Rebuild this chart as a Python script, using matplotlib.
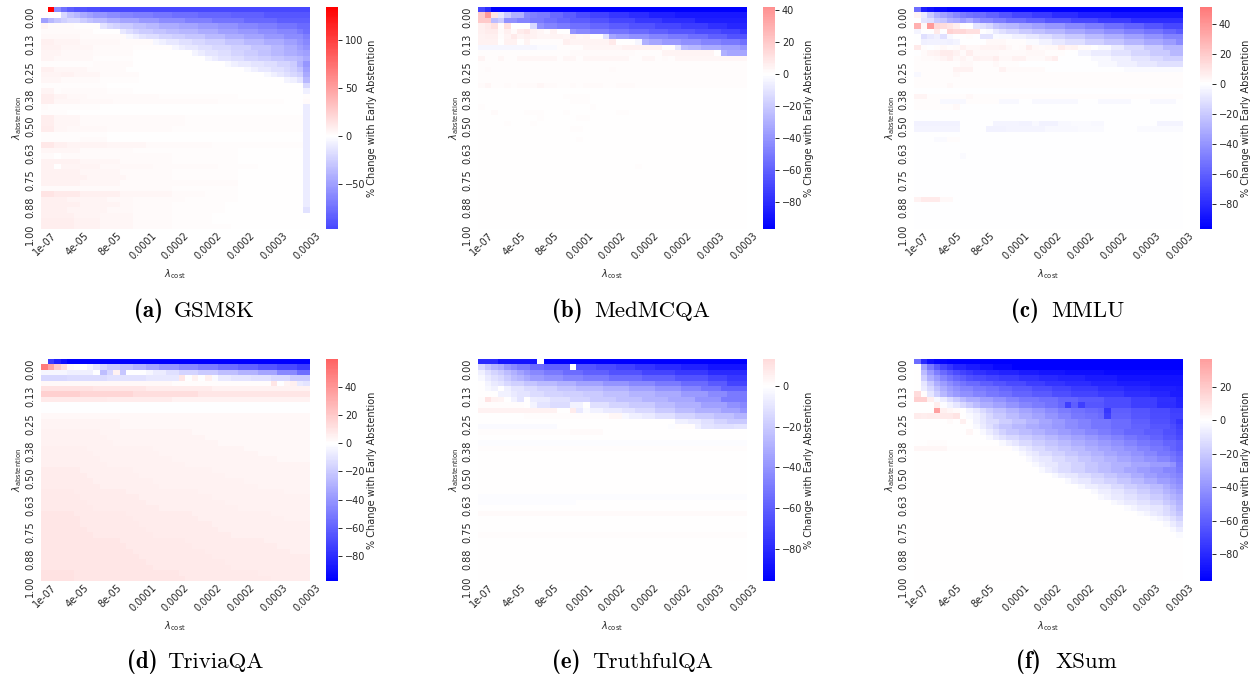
import numpy as np
import matplotlib
matplotlib.use('Agg')
import matplotlib.pyplot as plt
from matplotlib.colors import ListedColormap, Normalize
from matplotlib.cm import ScalarMappable

gsm8k = [
    [0,1,135,1,-60,1,-75,1,-85,1,-90,2,-93,2,-96,32],
    [0,3,-20,1,-32,1,-38,1,-45,1,-50,1,-55,2,-60,2,-65,2,-68,3,-72,3,-76,4,-80,5,-84,5,-88,7],
    [-50,1,-38,1,-30,1,-25,1,-20,2,-27,1,-32,1,-36,2,-42,2,-48,3,-54,3,-60,4,-67,4,-73,5,-79,5,-85,5],
    [6,1,2,4,1,4,-14,1,-20,1,-24,1,-28,2,-33,2,-38,2,-43,3,-48,3,-53,3,-58,3,-63,3,-68,3,-73,3,-78,2],
    [2,8,0,4,-12,1,-17,1,-22,1,-27,2,-31,2,-35,2,-39,3,-44,3,-49,3,-54,3,-59,3,-64,3,-69,1,-76,1],
    [4,6,2,7,-5,1,-9,1,-14,1,-18,2,-22,2,-26,2,-30,3,-36,3,-42,3,-48,3,-54,3,-60,3,-68,1],
    [8,2,6,4,4,6,2,5,-5,1,-8,1,-12,2,-16,2,-20,2,-25,3,-31,3,-37,3,-43,3,-50,2,-56,1,-62,1],
    [7,3,5,5,3,6,1,6,-5,1,-9,1,-12,2,-16,2,-20,3,-25,3,-31,3,-37,2,-44,2,-51,1,-58,1],
    [6,3,4,5,2,6,0,9,-6,1,-10,1,-14,2,-18,2,-22,2,-27,2,-32,2,-37,2,-42,2,-47,1,-50,1],
    [6,2,4,6,1,6,0,11,-6,1,-10,1,-14,2,-18,2,-22,2,-26,2,-30,2,-34,2,-38,1,-45,1],
    [1,8,2,6,0,14,-4,1,-8,1,-11,2,-14,2,-18,2,-22,2,-27,1,-40,1,-55,1],
    [8,2,5,5,3,6,0,18,-4,1,-8,1,-12,2,-16,2,-20,1,-25,1,-32,1,-50,1],
    [6,3,7,2,5,4,3,6,0,19,-4,1,-8,1,-12,1,-16,1,-20,1,-25,1,-45,1],
    [5,3,3,6,1,6,0,22,-6,1,-8,1,-14,1,-38,1],
    [1,10,0,30,-20,1],
    [6,2,1,1,3,3,2,4,1,4,0,26,-8,1],
    [9,2,6,2,4,3,3,5,2,6,1,12,0,10,1,1],
    [9,2,5,4,4,5,3,6,3,4,2,6,1,10,0,3,2,1],
    [2,1,1,8,0,31,-10,1],
    [1,4,0,36,-10,1],
    [9,2,5,4,3,8,2,8,1,18,-10,1],
    [9,2,5,4,3,8,2,8,1,18,-10,1],
    [10,2,5,2,4,6,3,10,1,20,-10,1],
    [1,10,0,30,-10,1],
    [1,6,2,4,0,30,-10,1],
    [12,2,8,2,6,6,5,6,3,10,1,14,-10,1],
    [5,6,3,8,1,16,0,10,-10,1],
    [2,2,0,1,3,9,2,8,1,10,0,10,-10,1],
    [7,6,5,6,3,8,1,10,0,10,-10,1],
    [7,2,0,1,6,6,4,8,2,10,1,6,0,7,-10,1],
    [7,6,5,6,3,8,1,10,0,10,-10,1],
    [7,7,5,6,3,7,1,10,0,10,-10,1],
    [7,6,5,6,3,8,2,10,0,10,-10,1],
    [3,10,2,10,1,10,0,10,-10,1],
    [14,2,11,4,8,6,5,8,3,5,1,5,0,10,-10,1],
    [8,4,6,6,4,4,2,8,1,8,0,10,-10,1],
    [8,6,6,6,4,2,2,6,1,8,0,12,-10,1],
    [8,4,6,6,4,4,3,6,1,8,0,12,-15,1],
    [8,5,6,4,5,5,3,6,1,6,0,15],
    [9,5,7,4,5,5,3,6,1,6,0,15],
    [9,5,7,4,5,5,3,6,1,9,0,12],
]

medmcqa = [
    [-70,1,-80,1,-97,39],
    [20,1,38,1,10,1,-10,1,-20,1,-30,2,-45,1,-48,1,-50,2,-56,2,-62,2,-68,2,-72,3,-76,3,-80,3,-84,4,-87,11],
    [20,2,-25,1,-20,1,-42,2,-46,2,-50,2,-54,2,-58,2,-62,3,-66,3,-70,4,-75,4,-80,5,-85,8],
    [6,1,8,1,12,1,1,1,12,1,0,3,-15,1,-42,1,-46,2,-50,2,-54,3,-58,3,-62,3,-66,4,-70,4,-74,4,-78,3,-82,2],
    [6,1,7,2,2,1,6,1,2,1,7,1,9,1,5,1,3,1,1,1,5,1,0,2,-40,1,-44,2,-48,3,-52,3,-56,3,-60,3,-64,4,-68,4,-72,3,-76,2],
    [5,1,6,2,1,1,4,1,8,1,4,1,6,1,5,1,3,2,4,2,3,1,6,1,3,1,4,1,1,2,-12,1,-35,1,-38,2,-42,3,-46,3,-50,3,-55,3,-60,3,-66,3,-70,1],
    [5,3,0,1,5,2,0,1,4,1,1,5,6,1,4,6,8,1,0,3,-4,1,-30,1,-34,2,-38,3,-42,3,-46,3,-50,3,-54,2],
    [-4,9,-2,3,1,4,3,6,5,6,1,2,-10,1,-25,1,-28,2,-32,3,-36,3,-40,3,-45,2],
    [1,14,2,10,1,4,4,8,0,1,-30,1,-34,3],
    [4,1,1,2,3,1,1,2,3,6,1,1,3,2,1,1,3,7,1,2,3,2,1,1,2,1,1,1,3,11],
    [1,41],
    [1,1,2,1,1,18,2,1,1,20],
    [1,41],
    [1,41],
    [2,1,3,1,1,2,2,1,1,1,2,3,3,1,2,1,2,1,1,2,2,1,1,1,2,1,2,2,1,2,2,3,1,20],
    [0,41],
    [0,13,1,4,0,24],
    [0,14,1,3,0,24],
    [1,1,0,16,1,1,0,23],
    [0,2,2,1,0,4,1,3,0,3,1,1,0,7,1,2,0,18],
    [0,9,1,1,0,5,1,2,0,24],
    [0,4,1,1,0,3,1,1,0,31],
    [0,14,1,2,0,25],
    [0,41],
    [0,15,1,1,0,25],
    [0,41],
    [0,41],
    [0,41],
    [0,41],
    [0,24,1,1,0,16],
    [0,41],
    [0,41],
    [0,41],
    [0,41],
    [0,41],
    [0,41],
    [0,41],
    [0,41],
    [0,41],
    [0,41],
    [0,41],
]

mmlu = [
    [-55,1,-85,1,-90,1,-93,2,-97,36],
    [4,1,-8,1,-20,1,-30,1,-35,1,-40,1,-45,1,-50,1,-52,1,-55,2,-60,2,-65,2,-70,3,-75,3,-80,4,-84,5,-88,11],
    [0,1,-10,1,-12,1,-20,1,-22,1,-30,1,-32,1,-38,1,-32,1,-40,1,-45,2,-50,2,-55,3,-60,3,-65,4,-70,4,-75,5,-80,8],
    [30,1,3,1,38,1,15,1,13,1,10,1,6,1,1,1,0,1,-10,1,-12,1,-15,1,-22,1,-25,1,-28,2,-32,2,-36,2,-40,3,-45,3,-50,3,-55,3,-60,3,-65,3,-70,2],
    [-4,1,0,2,8,1,0,1,17,1,14,2,12,2,0,1,-2,1,-8,1,-12,1,-16,2,-20,2,-24,2,-28,3,-33,3,-38,3,-43,3,-48,3,-53,3,-58,2,-62,2],
    [0,1,-12,1,-8,1,-6,1,-12,1,-3,1,-1,1,0,1,1,1,-1,1,-10,2,-2,1,-3,2,-6,2,-9,2,-13,2,-17,2,-21,3,-26,3,-31,3,-36,3,-41,3,-47,3,-52,2],
    [0,1,-6,1,-5,3,-6,1,-4,1,0,4,3,3,1,3,-2,2,-5,2,-9,2,-13,3,-18,3,-23,3,-28,3,-33,3,-38,2,-44,1],
    [8,1,1,1,0,1,1,1,3,1,1,1,2,1,5,1,3,2,4,3,5,1,3,1,1,1,2,1,6,1,3,1,2,1,3,2,7,1,4,1,5,1,2,2,0,1,-3,2,-8,2,-14,3,-20,3,-28,3,-34,1],
    [0,1,2,1,4,1,5,1,7,2,5,1,2,1,6,1,3,4,2,4,3,3,1,3,-1,2,-4,2,-7,3,-11,3,-15,3,-20,3,-27,2],
    [1,1,2,2,3,1,4,1,6,1,3,1,4,1,2,1,5,1,4,2,6,1,3,2,5,2,2,3,4,1,6,1,0,3,-1,2,-3,3,-6,3,-10,3,-14,2,-18,2],
    [1,7,3,2,1,3,3,1,1,3,0,8,-1,4,-3,3,-6,3,-9,3,-12,4],
    [1,6,5,3,1,4,5,1,2,6,0,12,-2,9],
    [-3,1,1,5,3,1,1,34],
    [1,41],
    [1,5,3,1,1,35],
    [0,41],
    [4,2,1,6,3,1,1,32],
    [1,4,-3,4,1,5,-3,3,0,2,-3,7,0,3,-3,5,0,3,-3,4,0,1],
    [1,6,3,1,0,34],
    [0,41],
    [-1,1,0,40],
    [-5,7,0,4,-1,1,-4,4,-5,2,-3,1,-5,3,-3,2,-2,3,-3,2,0,4,-1,4,-4,3],
    [-4,7,0,4,-5,3,-4,6,-3,5,-2,4,0,5,-2,5],
    [-1,1,0,9,-1,31],
    [0,3,-2,2,1,2,0,34],
    [-1,2,0,39],
    [0,41],
    [0,7,-2,1,0,33],
    [0,41],
    [0,41],
    [0,41],
    [0,41],
    [0,41],
    [0,41],
    [-1,41],
    [5,1,8,3,3,2,0,4,-1,31],
    [0,41],
    [0,41],
    [0,41],
    [0,41],
    [0,41],
]

triviaqa = [
    [0,1,-75,1,-85,1,-92,1,-98,37],
    [50,1,35,1,20,1,12,1,3,1,1,1,0,1,-5,1,-10,1,-15,1,-20,2,-25,2,-30,2,-35,2,-40,3,-45,3,-50,3,-55,3,-60,3,-65,3,-70,3,-75,2],
    [-4,4,-6,4,0,1,-25,1,-15,1,5,1,-22,1,0,3,-3,1,-7,2,-12,2,-16,3,-20,3,-25,3,-30,3,-35,3,-45,3,-55,2],
    [-15,4,-13,6,-11,6,-9,5,10,1,0,1,5,1,0,1,6,1,-2,1,-8,2,-10,3,-12,3,-15,3,-20,3,-27,3,-33,1],
    [2,20,1,15,10,1,0,1,4,1,6,1,-8,1,-10,1],
    [11,8,9,8,7,10,5,15],
    [18,6,15,8,12,10,9,17],
    [8,10,7,10,5,21],
    [0,41],
    [0,41],
    [3,10,2,31],
    [4,12,3,15,2,14],
    [4,12,3,29],
    [5,9,4,14,3,18],
    [5,10,4,15,3,16],
    [5,11,4,16,3,14],
    [6,7,5,10,4,14,3,10],
    [6,8,5,10,4,15,3,8],
    [6,9,5,11,4,16,3,5],
    [6,10,5,12,4,19],
    [7,6,6,8,5,12,4,15],
    [7,7,6,8,5,13,4,13],
    [7,8,6,9,5,14,4,10],
    [7,9,6,9,5,15,4,8],
    [8,5,7,8,6,11,5,13,4,4],
    [8,6,7,9,6,11,5,15],
    [8,7,7,9,6,12,5,13],
    [8,8,7,10,6,12,5,11],
    [9,5,8,8,7,10,6,12,5,6],
    [9,6,8,8,7,10,6,13,5,4],
    [9,6,8,9,7,11,6,15],
    [9,7,8,9,7,11,6,14],
    [9,8,8,9,7,12,6,12],
    [10,5,9,7,8,10,7,12,6,7],
    [10,5,9,8,8,10,7,13,6,5],
    [10,6,9,8,8,11,7,13,6,3],
    [10,7,9,8,8,11,7,15],
    [10,7,9,9,8,12,7,13],
    [10,8,9,9,8,12,7,12],
    [11,5,10,7,9,9,8,12,7,8],
    [11,5,10,8,9,9,8,13,7,6],
]

truthfulqa = [
    [-80,3,-88,6,0,1,-97,31],
    [-15,1,-22,1,-28,1,-32,1,-40,1,-45,1,-50,2,-56,2,-60,4,0,1,-64,3,-68,3,-72,3,-76,3,-80,4,-84,4,-88,6],
    [-6,1,-12,1,-16,1,-20,1,-25,1,-30,1,-35,1,-40,1,-45,2,-50,3,-55,3,-60,4,-65,5,-70,5,-75,5,-80,6],
    [-3,1,-8,1,-12,1,-15,1,-20,1,-25,1,-28,1,-33,1,-38,2,-42,3,-46,3,-50,4,-55,5,-60,5,-65,5,-70,3,-75,3],
    [0,1,-4,1,-8,1,-10,1,-15,1,-18,2,-22,2,-26,3,-30,3,-35,4,-40,4,-45,4,-50,4,-56,4,-62,3,-70,3],
    [0,1,-3,1,-5,1,0,1,-6,1,-10,2,-14,2,-18,3,-22,3,-26,4,-30,4,-35,4,-40,4,-46,3,-52,3,-60,3],
    [0,3,-5,2,-8,1,-10,2,-13,2,-16,3,-18,3,-20,3,-24,4,-28,4,-32,4,-38,4,-44,3,-50,3],
    [1,1,10,1,5,1,4,1,0,1,-5,1,-10,1,0,1,-7,1,-8,2,-12,3,-16,3,-20,4,-24,4,-28,4,-33,4,-40,4,-50,4],
    [1,7,0,1,-4,1,-10,2,-13,3,-5,2,0,1,-12,3,-16,3,-20,4,-25,3,-30,4,-36,4,-42,2,-45,1],
    [5,12,0,2,7,1,-8,1,-2,1,-5,2,-8,3,-11,2,-15,3,-20,3,-25,3,-30,4,-35,3,-40,1],
    [0,7,1,13,3,2,-3,1,-6,2,-8,2,-12,3,-16,3,-20,3,-24,3,-28,2],
    [0,30,-6,2,-8,2,-12,2,-16,2,-20,3],
    [-2,12,0,17,-1,1,1,3,-6,1,-10,2,-12,3,-10,2],
    [1,14,2,5,0,22],
    [0,41],
    [-1,41],
    [1,41],
    [0,41],
    [0,41],
    [0,41],
    [0,41],
    [0,41],
    [0,41],
    [0,41],
    [0,41],
    [-1,41],
    [-1,15,0,26],
    [0,41],
    [2,41],
    [0,41],
    [0,41],
    [0,41],
    [1,41],
    [0,41],
    [0,41],
    [0,41],
    [0,41],
    [0,41],
    [0,41],
    [0,41],
    [0,41],
]

xsum = [
    [-55,1,-80,1,-90,1,-94,2,-97,36],
    [0,1,-35,1,-50,1,-62,1,-70,1,-76,1,-82,2,-86,2,-89,2,-92,3,-95,26],
    [0,1,-25,1,-38,1,-48,1,-56,1,-62,1,-67,1,-71,1,-74,1,-77,2,-80,2,-83,3,-86,3,-88,4,-90,6,-92,12],
    [0,1,-18,1,-30,1,-38,1,-46,1,-52,1,-57,1,-61,1,-65,1,-68,2,-71,2,-74,3,-77,3,-80,3,-83,4,-86,5,-89,10],
    [0,1,-10,1,-20,1,-30,1,-37,1,-43,1,-48,1,-52,1,-56,2,-60,2,-64,2,-68,3,-72,3,-76,3,-79,4,-82,4,-85,5,-88,5],
    [0,1,-7,1,-15,1,-24,1,-31,1,-37,1,-42,1,-46,2,-50,2,-54,2,-58,2,-62,3,-66,3,-70,3,-74,4,-78,4,-81,4,-84,4,-86,1],
    [13,1,1,1,-10,1,-18,1,-27,1,-33,1,-38,1,-42,2,-46,2,-50,2,-54,2,-58,3,-62,3,-66,3,-70,4,-74,4,-78,4,-81,3,-85,1],
    [17,2,6,1,-3,1,-7,1,-14,1,-20,1,-26,1,-31,2,-36,2,-41,2,-46,2,-50,3,-54,3,-58,3,-62,4,-67,4,-72,4,-77,3,-83,1],
    [0,3,6,1,-1,1,-5,1,-10,1,-15,1,-20,1,-25,1,-30,2,-35,2,-40,2,-45,2,-49,2,-53,2,-57,1,-72,1,-60,1,-72,1,-63,3,-67,4,-72,4,-78,3,-82,1],
    [0,3,35,1,5,1,3,1,2,1,0,1,-5,1,-9,1,-14,1,-19,1,-24,2,-29,2,-34,2,-39,2,-44,2,-49,2,-53,2,-56,2,-58,1,-75,1,-60,3,-64,3,-68,3,-72,3,-76,1,-80,1],
    [7,1,6,1,7,2,8,2,10,1,0,1,-2,1,-5,1,-10,1,-15,1,-20,2,-25,2,-30,2,-35,2,-40,2,-45,2,-50,2,-53,2,-56,1,-72,1,-59,3,-63,3,-67,3,-71,3,-75,1,-78,1],
    [0,5,2,1,0,1,5,1,0,1,-5,1,-9,1,-13,2,-18,2,-23,2,-28,2,-33,2,-38,2,-43,2,-47,2,-51,3,-55,3,-60,3,-65,3,-70,1,-76,1],
    [0,9,-3,1,-7,1,-12,1,-17,1,-22,2,-27,2,-31,2,-35,2,-39,2,-43,2,-47,2,-51,3,-55,3,-59,3,-63,3,-67,1,-72,1],
    [0,8,3,1,0,1,-3,1,-7,1,-12,1,-17,1,-21,2,-25,2,-29,2,-33,2,-37,2,-41,2,-45,2,-49,2,-53,2,-57,3,-61,3,-65,2,-70,1],
    [0,11,-3,1,-7,1,-11,1,-15,2,-19,2,-23,2,-27,2,-31,2,-35,2,-39,2,-43,2,-47,2,-51,2,-55,2,-59,2,-63,2,-68,1],
    [0,2,1,3,0,8,-3,1,-6,1,-10,1,-14,2,-18,2,-22,2,-26,2,-30,2,-34,2,-38,2,-42,2,-46,2,-50,2,-54,2,-58,2,-62,2,-65,1],
    [3,5,1,10,-3,1,-6,1,-10,1,-14,2,-18,2,-22,2,-26,2,-30,2,-34,2,-38,2,-42,2,-46,2,-50,2,-54,1,-58,1,-62,1],
    [0,16,-3,1,-6,1,-9,1,-13,2,-17,2,-21,2,-25,2,-29,2,-33,2,-37,2,-41,2,-45,2,-50,2,-54,1,-58,1],
    [0,17,-3,1,-6,1,-9,2,-13,2,-17,2,-21,2,-25,2,-29,2,-33,2,-37,2,-41,2,-45,2,-50,1,-55,1],
    [0,18,-3,1,-6,1,-9,2,-13,2,-17,2,-21,2,-25,2,-29,3,-33,3,-37,3,-41,1,-52,1],
    [0,19,-3,1,-6,1,-10,1,-13,2,-17,2,-21,2,-25,2,-29,2,-33,2,-37,2,-41,2,-45,2,-50,1],
    [0,21,-3,1,-6,1,-9,2,-13,2,-17,2,-21,2,-26,2,-31,2,-36,2,-41,2,-44,1,-47,1],
    [0,23,-3,1,-6,1,-9,2,-13,2,-17,2,-21,2,-26,2,-31,2,-36,2,-40,1,-44,1],
    [0,25,-3,1,-6,2,-10,2,-14,2,-18,2,-22,2,-26,2,-31,1,-36,1,-40,1],
    [0,27,-3,1,-6,2,-10,2,-14,2,-18,2,-23,2,-28,1,-32,1,-36,1],
    [0,28,-3,1,-5,1,-8,2,-11,2,-15,2,-19,2,-24,1,-28,1,-32,1],
    [0,30,-3,1,-5,1,-8,2,-11,2,-15,2,-20,1,-24,1,-29,1],
    [0,32,-2,1,-4,1,-7,2,-10,2,-14,1,-19,1,-26,1],
    [0,34,-2,1,-4,1,-7,1,-10,1,-13,1,-17,1,-22,1],
    [0,36,-2,1,-4,1,-7,1,-12,1,-17,1],
    [0,38,-3,1,-7,1,-12,1],
    [0,39,-3,1,-7,1],
    [0,40,-2,1],
    [0,41],
    [0,41],
    [0,41],
    [0,41],
    [0,41],
    [0,41],
    [0,41],
    [0,41],
]

names = ['GSM8K', 'MedMCQA', 'MMLU', 'TriviaQA', 'TruthfulQA', 'XSum']
tags = ['(a)', '(b)', '(c)', '(d)', '(e)', '(f)']
tables = [gsm8k, medmcqa, mmlu, triviaqa, truthfulqa, xsum]
vmins = [-97, -97, -97, -98, -96, -96]
vmaxs = [135, 42, 51, 60, 13.4, 36.5]
cbar_ticks = [
    [-50, 0, 50, 100],
    [-80, -60, -40, -20, 0, 20, 40],
    [-80, -60, -40, -20, 0, 20, 40],
    [-80, -60, -40, -20, 0, 20, 40],
    [-80, -60, -40, -20, 0],
    [-80, -60, -40, -20, 0, 20],
]
cost_labels = ['1e-07', '4e-05', '8e-05', '0.0001', '0.0002', '0.0002', '0.0002', '0.0003', '0.0003']
abst_labels = ['0.00', '0.13', '0.25', '0.38', '0.50', '0.63', '0.75', '0.88', '1.00']

W, H = 1254, 676
# pixel boxes: heatmap left, colorbar left, top of row, caption lefts
ax_lefts = [41, 478, 914, 41, 478, 914]
cb_lefts = [326, 763, 1200, 326, 763, 1200]
tops = [7, 7, 7, 359, 359, 359]
tag_lefts = [134, 552, 1011, 127, 552, 1016]
name_lefts = [174, 594, 1051, 167, 592, 1055]
cap_y = [311, 311, 311, 662, 662, 662]
AX_W, AX_H, CB_W = 269, 222, 12
TEXT = '#262626'


def expand(row):
    vals = np.repeat(row[0::2], row[1::2]).astype(float)
    if len(vals) < 41:
        vals = np.concatenate([vals, np.full(41 - len(vals), vals[-1])])
    return vals[:41]


def box(left, top, w, h):
    return [left / W, 1 - (top + h) / H, w / W, h / H]


fig = plt.figure(figsize=(W / 100, H / 100), dpi=100)
bwr = plt.get_cmap('bwr')

for i, name in enumerate(names):
    data = np.array([expand(r) for r in tables[i]])
    vmin, vmax = vmins[i], vmaxs[i]
    # same colour handling as a centred seaborn heatmap
    vr = max(vmax, -vmin)
    cmap = ListedColormap(bwr(np.linspace((vmin + vr) / (2 * vr), (vmax + vr) / (2 * vr), 256)))
    norm = Normalize(vmin, vmax)

    ax = fig.add_axes(box(ax_lefts[i], tops[i], AX_W, AX_H))
    ax.pcolormesh(np.arange(42), np.arange(data.shape[0] + 1), data, cmap=cmap, norm=norm)
    ax.set_xlim(0, 41)
    ax.set_ylim(41, 0)
    for s in ax.spines.values():
        s.set_visible(False)
    ax.set_xticks(np.arange(0, 41, 5) + 0.5)
    ax.set_xticklabels(cost_labels, rotation=45, ha='center', fontsize=7, color=TEXT)
    ax.set_yticks(np.arange(0, 41, 5))
    ax.set_yticklabels(abst_labels, rotation=90, va='top', fontsize=7, color=TEXT)
    ax.tick_params(axis='x', length=0, pad=1)
    ax.tick_params(axis='y', length=0, pad=4)
    ax.set_xlabel(r'$\lambda_{\mathrm{cost}}$', fontsize=7, color=TEXT, labelpad=4)
    ax.set_ylabel(r'$\lambda_{\mathrm{abstention}}$', fontsize=7, color=TEXT, labelpad=1)

    cax = fig.add_axes(box(cb_lefts[i], tops[i], CB_W, AX_H))
    cb = fig.colorbar(ScalarMappable(norm=norm, cmap=cmap), cax=cax)
    cb.outline.set_visible(False)
    cb.set_ticks(cbar_ticks[i])
    cb.ax.tick_params(labelsize=7, length=3, width=0.7, pad=2, labelcolor=TEXT, color=TEXT)
    cb.set_label('% Change with Early Abstention', fontsize=7, color=TEXT, labelpad=1)

    fig.text(tag_lefts[i] / W, 1 - cap_y[i] / H, tags[i], family='cmb10', fontsize=16.5, va='center')
    fig.text(name_lefts[i] / W, 1 - cap_y[i] / H, name, family='cmr10', fontsize=16.5, va='center')

fig.savefig('out.png', dpi=100)
